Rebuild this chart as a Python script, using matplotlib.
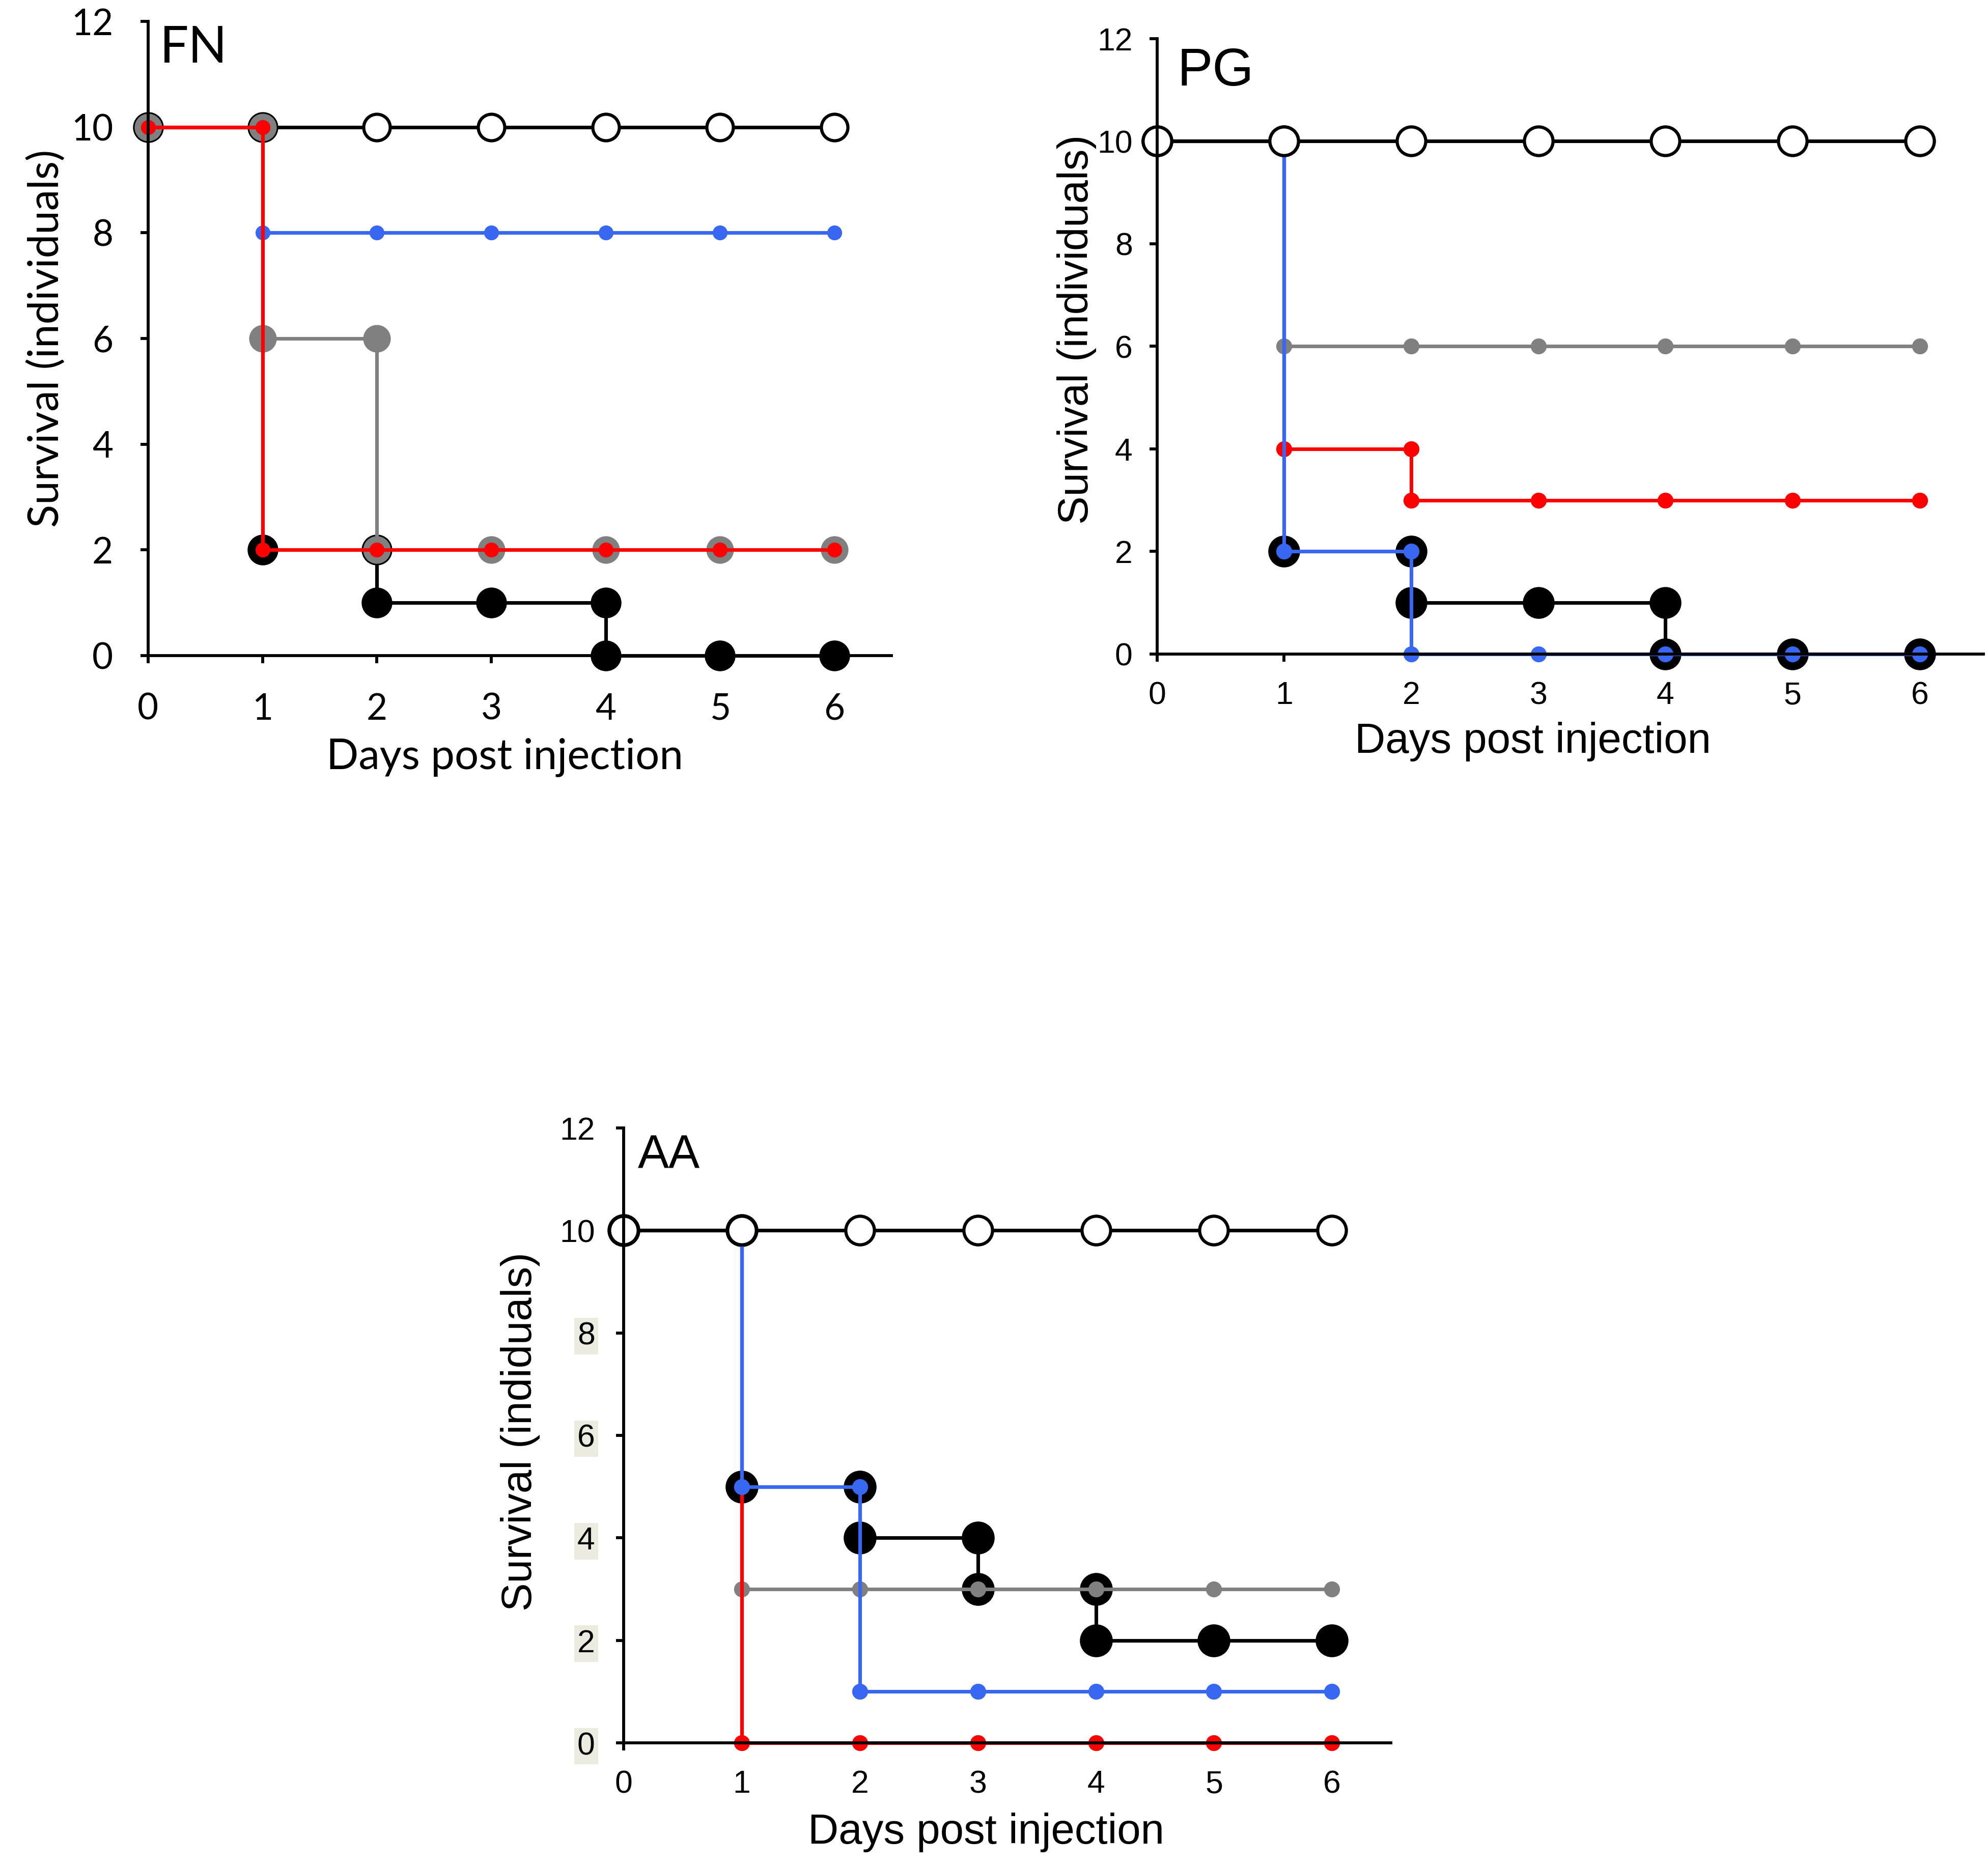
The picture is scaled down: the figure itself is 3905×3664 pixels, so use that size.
import matplotlib
matplotlib.use("Agg")
import matplotlib.pyplot as plt

days = [0, 1, 2, 3, 4, 5, 6]

# FN panel (daily survivors)
fn_control = [10, 10, 10, 10, 10, 10, 10]
fn_black = [10, 2, 1, 1, 0, 0, 0]
fn_grey = [10, 6, 2, 2, 2, 2, 2]
fn_blue = [10, 8, 8, 8, 8, 8, 8]
fn_red = [10, 2, 2, 2, 2, 2, 2]

# PG panel
pg_control = [10, 10, 10, 10, 10, 10, 10]
pg_black = [10, 2, 1, 1, 0, 0, 0]
pg_grey = [10, 6, 6, 6, 6, 6, 6]
pg_red = [10, 4, 3, 3, 3, 3, 3]
pg_blue = [10, 2, 0, 0, 0, 0, 0]

# AA panel
aa_control = [10, 10, 10, 10, 10, 10, 10]
aa_black = [10, 5, 4, 3, 2, 2, 2]
aa_grey = [10, 3, 3, 3, 3, 3, 3]
aa_blue = [10, 5, 1, 1, 1, 1, 1]
aa_red = [10, 0, 0, 0, 0, 0, 0]

BLUE = "#3868f2"
RED = "#ff0000"
GREY = "#808080"


def steps(x, y):
    xs, ys = [x[0]], [y[0]]
    for d, prev, v in zip(x[1:], y[:-1], y[1:]):
        if v != prev:
            xs += [d, d]
            ys += [prev, v]
        else:
            xs.append(d)
            ys.append(v)
    return xs, ys


def curve(ax, vals, color, ms, mfc=None, mec=None, lw=1.7):
    xs, ys = steps(days, vals)
    ax.plot(xs, ys, color=color, lw=lw, marker="o", ms=ms,
            mfc=mfc or color, mec=mec or color, mew=1.5, clip_on=False)


def setup(ax, fam, tick_fs, ylabel, ylab_x, ylab_y, xlab_x, xlab_y, lab_fs,
          xpad, ypad):
    ax.set_xlim(0, 6.5)
    ax.set_ylim(0, 12)
    ax.set_xticks(days)
    ax.set_yticks(range(0, 13, 2))
    for s in ["top", "right"]:
        ax.spines[s].set_visible(False)
    for s in ["left", "bottom"]:
        ax.spines[s].set_linewidth(1.4)
    ax.tick_params(axis="x", direction="out", length=3.5, width=1.4, pad=xpad)
    ax.tick_params(axis="y", direction="out", length=3.5, width=1.4, pad=ypad)
    for lbl in ax.get_xticklabels() + ax.get_yticklabels():
        lbl.set_family(fam)
        lbl.set_fontsize(tick_fs)
    ax.set_xlabel("Days post injection", family=fam, fontsize=lab_fs)
    ax.set_ylabel(ylabel, family=fam, fontsize=lab_fs)
    ax.xaxis.set_label_coords(xlab_x, xlab_y)
    ax.xaxis.label.set_va("center")
    ax.yaxis.set_label_coords(ylab_x, ylab_y)
    ax.yaxis.label.set_va("center")


fig = plt.figure(figsize=(3905 / 300, 3664 / 300), dpi=300)

arial = ["Liberation Sans Narrow", "Liberation Sans"]

# ---- FN ----
ax1 = fig.add_axes([0.0745, 0.6485, 0.374, 0.340])
curve(ax1, fn_control, "black", 12.5, mfc="white", mec="black")
curve(ax1, fn_black, "black", 13)
curve(ax1, fn_grey, GREY, 11.5)
curve(ax1, fn_blue, BLUE, 5.5)
curve(ax1, fn_red, RED, 5.5)
setup(ax1, "Lato", 17, "Survival (individuals)", -0.136, 0.5, 0.48, -0.16,
      20, 14, 13)
ax1.text(0.1, 11.5, "FN", family="Lato", fontsize=24, va="center")

# ---- PG ----
ax2 = fig.add_axes([0.582, 0.6493, 0.4156, 0.330])
curve(ax2, pg_black, "black", 13.5)
curve(ax2, pg_grey, GREY, 6)
curve(ax2, pg_red, RED, 6)
curve(ax2, pg_blue, BLUE, 6)
curve(ax2, pg_control, "black", 13.5, mfc="white", mec="black")
setup(ax2, arial, 15, "Survival (individuals)", -0.097, 0.527, 0.455, -0.142,
      20, 9, 8)
ax2.text(0.16, 11.35, "PG", family=arial, fontsize=25, va="center")

# ---- AA ----
ax3 = fig.add_axes([0.3137, 0.0655, 0.386, 0.3297])
curve(ax3, aa_black, "black", 14)
curve(ax3, aa_grey, GREY, 6)
curve(ax3, aa_red, RED, 6)
curve(ax3, aa_blue, BLUE, 6)
curve(ax3, aa_control, "black", 13.5, mfc="white", mec="black")
setup(ax3, arial, 15, "Survival (indiduals)", -0.135, 0.506, 0.472, -0.146,
      20, 9, 10)
for lbl in ax3.get_yticklabels():
    if lbl.get_text() in ["0", "2", "4", "6", "8"]:
        lbl.set_bbox(dict(facecolor="#ecebdf", edgecolor="none", pad=1.5))
ax3.text(0.12, 11.45, "AA", family=arial, fontsize=22, va="center")

fig.savefig("out.png", dpi=300)
